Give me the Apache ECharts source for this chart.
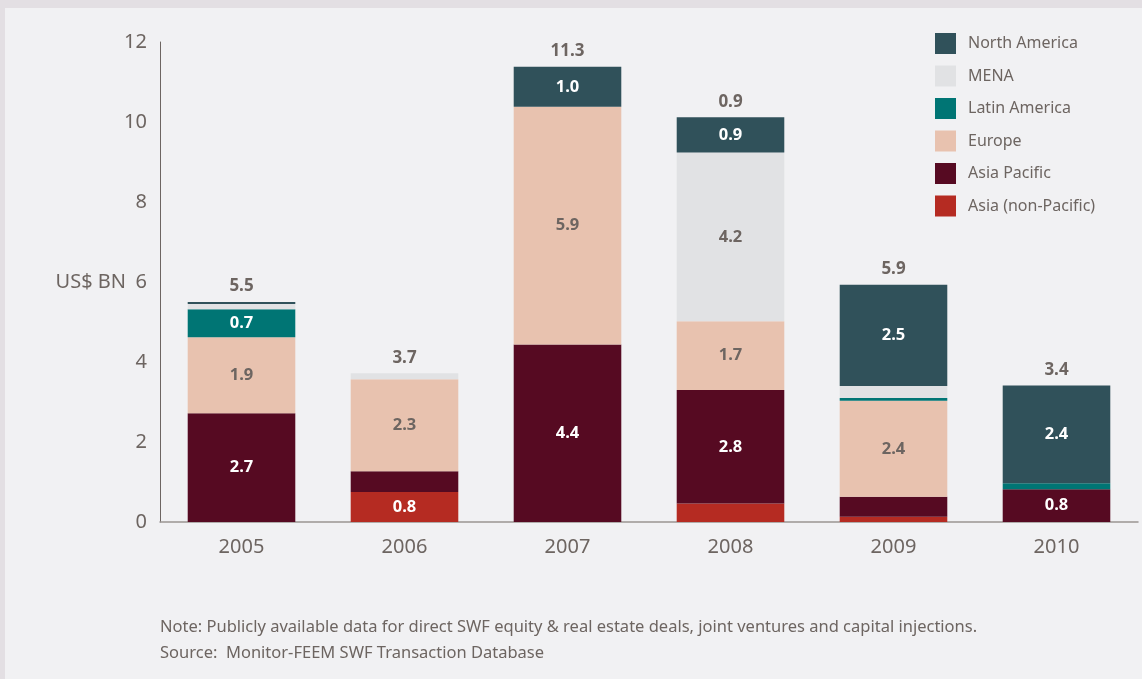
<!DOCTYPE html>
<html>
<head>
<meta charset="utf-8">
<script src="https://cdn.jsdelivr.net/npm/echarts@6/dist/echarts.min.js"></script>
<style>
  html, body { margin: 0; padding: 0; background: #e3dfe3; }
  #chart { position: absolute; left: 5px; top: 8px; width: 1137px; height: 671px; background: #f1f1f3; }
</style>
</head>
<body>
<div id="chart"></div>
<script>
// data (US$ BN)
var years = ['2005', '2006', '2007', '2008', '2009', '2010']
var asiaNonPacific = [0, 0.75, 0, 0.46, 0.13, 0]
var asiaPacific = [2.72, 0.52, 4.44, 2.84, 0.5, 0.82]
var europe = [1.9, 2.3, 5.94, 1.72, 2.4, 0]
var latinAmerica = [0.7, 0, 0, 0, 0.07, 0.15]
var mena = [0.13, 0.15, 0, 4.22, 0.3, 0]
var northAmerica = [0.05, 0, 1.0, 0.88, 2.53, 2.44]
var totalLabels = ['5.5', '3.7', '11.3', '0.9', '5.9', '3.4']

var grey = '#6d6561'
var font = '"Noto Sans", "Open Sans", sans-serif'

// stack order, bottom first
var stacks = [
  { name: 'Asia (non-Pacific)', data: asiaNonPacific, color: '#b52b22', label: '#ffffff' },
  { name: 'Asia Pacific', data: asiaPacific, color: '#560a22', label: '#ffffff' },
  { name: 'Europe', data: europe, color: '#e8c2af', label: grey },
  { name: 'Latin America', data: latinAmerica, color: '#007574', label: '#ffffff' },
  { name: 'MENA', data: mena, color: '#e1e2e4', label: grey },
  { name: 'North America', data: northAmerica, color: '#30515a', label: '#ffffff' }
]

var series = stacks.map(function (st) {
  return {
    name: st.name,
    type: 'bar',
    stack: 'all',
    barWidth: '66%',
    data: st.data,
    itemStyle: { color: st.color },
    label: {
      show: true,
      position: 'inside',
      color: st.label,
      fontFamily: font,
      fontWeight: 'bold',
      fontSize: 16.5,
      formatter: function (p) { return p.value >= 0.6 ? p.value.toFixed(1) : '' }
    }
  }
})

// totals: empty bar on top of the stack, only its label shows
series.push({
  name: 'total',
  type: 'bar',
  stack: 'all',
  barWidth: '66%',
  data: years.map(function () { return 0 }),
  silent: true,
  label: {
    show: true,
    position: 'top',
    distance: 7,
    color: grey,
    fontFamily: font,
    fontWeight: 'bold',
    fontSize: 17,
    formatter: function (p) { return totalLabels[p.dataIndex] }
  }
})

var myChart = echarts.init(document.getElementById('chart'))
myChart.setOption({
  animation: false,
  textStyle: { fontFamily: font },
  grid: { left: 155, right: 4, top: 34, bottom: 157 },
  legend: {
    orient: 'vertical',
    left: 925,
    top: 20,
    itemWidth: 21,
    itemHeight: 21,
    itemGap: 11.5,
    icon: 'rect',
    data: ['North America', 'MENA', 'Latin America', 'Europe', 'Asia Pacific', 'Asia (non-Pacific)'],
    textStyle: { color: grey, fontSize: 16, fontFamily: font, padding: [0, 0, 0, 7] }
  },
  xAxis: {
    type: 'category',
    data: years,
    axisTick: { show: false },
    axisLine: { lineStyle: { color: '#9a9593', width: 1.5 } },
    axisLabel: { color: grey, fontSize: 20, margin: 15, fontFamily: font }
  },
  yAxis: {
    type: 'value',
    min: 0,
    max: 12,
    interval: 2,
    name: 'US$ BN',
    nameLocation: 'middle',
    nameRotate: 0,
    nameGap: 34,
    nameMoveOverlap: false,
    nameTextStyle: { color: grey, fontSize: 20, fontFamily: font },
    splitLine: { show: false },
    axisTick: { show: false },
    axisLine: { show: true, lineStyle: { color: grey, width: 1 } },
    axisLabel: { color: grey, fontSize: 20, margin: 13, fontFamily: font }
  },
  graphic: [
    {
      type: 'text', left: 155, top: 611,
      style: { text: 'Note: Publicly available data for direct SWF equity & real estate deals, joint ventures and capital injections.', fill: grey, fontSize: 16.5, fontFamily: font }
    },
    {
      type: 'text', left: 155, top: 637,
      style: { text: 'Source:  Monitor-FEEM SWF Transaction Database', fill: grey, fontSize: 16.5, fontFamily: font }
    }
  ],
  series: series
})
</script>
</body>
</html>
